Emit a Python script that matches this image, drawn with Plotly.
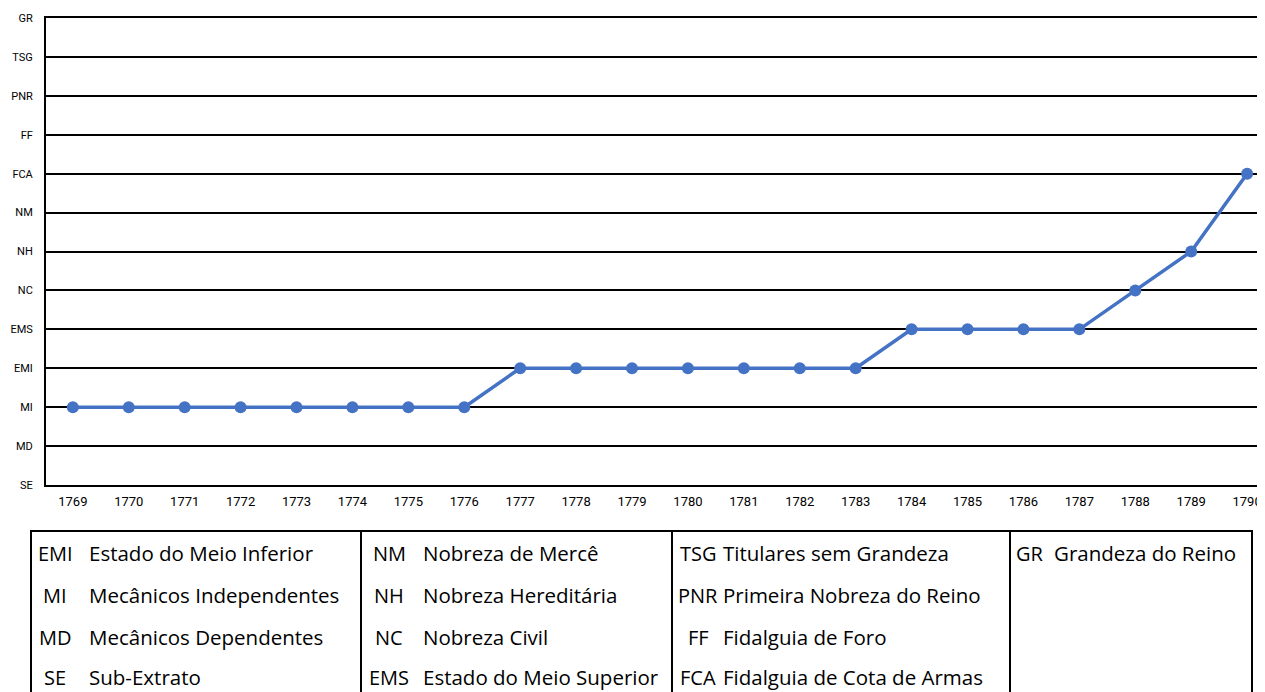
import plotly.graph_objects as go

# estratos, do mais baixo ao mais alto
estratos = ["SE", "MD", "MI", "EMI", "EMS", "NC", "NH", "NM", "FCA", "FF", "PNR", "TSG", "GR"]

anos = list(range(1769, 1791))
posicao = ["MI"] * 8 + ["EMI"] * 7 + ["EMS"] * 4 + ["NC", "NH", "FCA"]

# legenda das siglas, por coluna
col1_sigla = ["EMI", "MI", "MD", "SE"]
col1_nome = ["Estado do Meio Inferior", "Mecânicos Independentes", "Mecânicos Dependentes", "Sub-Extrato"]
col2_sigla = ["NM", "NH", "NC", "EMS"]
col2_nome = ["Nobreza de Mercê", "Nobreza Hereditária", "Nobreza Civil", "Estado do Meio Superior"]
col3_sigla = ["TSG", "PNR", "FF", "FCA"]
col3_nome = ["Titulares sem Grandeza", "Primeira Nobreza do Reino", "Fidalguia de Foro", "Fidalguia de Cota de Armas"]
col4_sigla = ["GR"]
col4_nome = ["Grandeza do Reino"]

# a página tem 8px de margem no body: a figura começa em (8, 8)
OFF = 8
W, H = 1265 - OFF, 692 - OFF
L, T, B = 46, 18, 485          # área do gráfico, em pixels da página
FONT_TAB = "Open Sans"
FONT_EIXO = "Roboto"


def px(x):
    return (x - L) / (1265 - L)


def py(y):
    return (B - y) / (B - T)


fig = go.Figure(go.Scatter(
    x=anos, y=posicao, mode="lines+markers",
    line=dict(color="#4472C4", width=3.5),
    marker=dict(color="#4472C4", size=12),
))

# tabela de legenda
linhas = [
    (31, 531, 1252, 531),
    (31, 530, 31, 700),
    (361, 531, 361, 700),
    (672, 531, 672, 700),
    (1010, 531, 1010, 700),
    (1252, 530, 1252, 700),
]
for x0, y0, x1, y1 in linhas:
    fig.add_shape(type="line", xref="paper", yref="paper",
                  x0=px(x0), y0=py(y0), x1=px(x1), y1=py(y1),
                  line=dict(color="black", width=2))

linha_y = [553, 595, 637, 677]
colunas = [
    (col1_sigla, col1_nome, 55, 87),
    (col2_sigla, col2_nome, 389, 421),
    (col3_sigla, col3_nome, 698, 721),
    (col4_sigla, col4_nome, 1030, 1052),
]
for siglas, nomes, xs, xn in colunas:
    for s, n, y in zip(siglas, nomes, linha_y):
        fig.add_annotation(x=px(xs), y=py(y), xref="paper", yref="paper", text=s,
                           showarrow=False, xanchor="center", yanchor="middle",
                           font=dict(family=FONT_TAB, size=20, color="black"))
        fig.add_annotation(x=px(xn), y=py(y), xref="paper", yref="paper", text=n,
                           showarrow=False, xanchor="left", yanchor="middle",
                           font=dict(family=FONT_TAB, size=20.5, color="black"))

fig.update_layout(
    width=W, height=H,
    margin=dict(l=L - OFF, r=0, t=T - OFF, b=H - (B - OFF)),
    plot_bgcolor="white", paper_bgcolor="white",
    showlegend=False,
    font=dict(family=FONT_EIXO, color="black"),
)
fig.update_xaxes(
    range=[1768.52, 1790.32], tickvals=anos, showgrid=False,
    showline=True, linecolor="black", linewidth=2, mirror=True,
    tickfont=dict(size=13), ticks="", ticklabelstandoff=3, automargin=False,
)
fig.update_yaxes(
    type="category", categoryarray=estratos, range=[0, 12],
    showgrid=True, gridcolor="black", gridwidth=2,
    showline=True, linecolor="black", linewidth=2,
    tickfont=dict(size=11), ticks="", ticklabelstandoff=9, automargin=False,
)

fig.write_html("out.html")
